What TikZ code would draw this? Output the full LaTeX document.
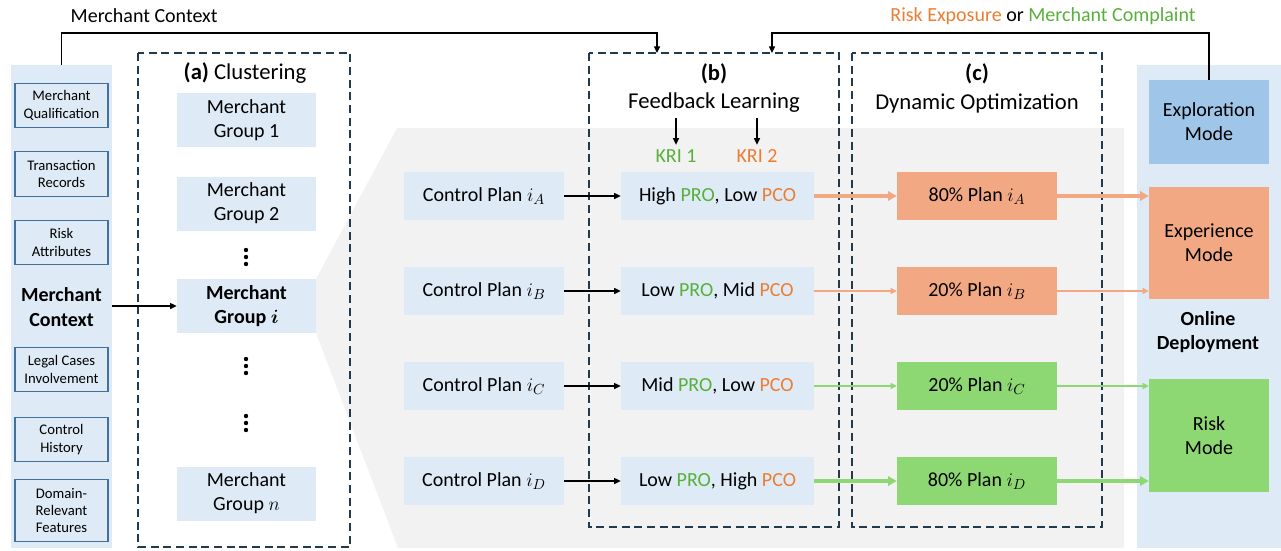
\documentclass[tikz,border=0pt]{standalone}
\usepackage{fontspec}
\setmainfont{Carlito}
\usetikzlibrary{arrows.meta}
\definecolor{lightblue}{HTML}{DEEBF7}
\definecolor{bggray}{HTML}{F2F2F2}
\definecolor{dashcol}{HTML}{1F3B4D}
\definecolor{sborder}{HTML}{41719C}
\definecolor{explblue}{HTML}{9FC5E8}
\definecolor{orfill}{HTML}{F2A882}
\definecolor{grfill}{HTML}{8ED873}
\definecolor{tgreen}{HTML}{58B03A}
\definecolor{torange}{HTML}{ED7D31}
\begin{document}
\begin{tikzpicture}[x=0.75pt,y=-0.75pt,
  big/.style={font=\fontsize{15}{18}\selectfont},
  head/.style={font=\fontsize{17}{20}\selectfont},
  box/.style={fill=lightblue, inner sep=0pt, align=center, big},
  sbox/.style={draw=sborder, line width=0.9pt, fill=lightblue, align=center,
     font=\fontsize{11}{13}\selectfont, minimum width=69.75pt, minimum height=33.5pt, inner sep=0pt},
  grp/.style={box, minimum width=104.25pt, minimum height=40.5pt},
  cplan/.style={box, minimum width=120pt, minimum height=36pt},
  fb/.style={box, minimum width=144.75pt, minimum height=36pt},
  plan/.style={inner sep=0pt, align=center, big, minimum width=120pt, minimum height=36pt},
  mode/.style={inner sep=0pt, align=center, big, minimum width=90pt},
  dbox/.style={draw=dashcol, line width=1.4pt, dash pattern=on 6pt off 3.5pt},
  arr/.style={-{Triangle[length=5pt,width=4.5pt]}, line width=1pt},
  thinarr/.style={-{Triangle[length=4.5pt,width=4.5pt]}, line width=0.9pt},
  thickarr/.style={-{Triangle[length=6.5pt,width=7pt]}, line width=2.6pt},
  dot/.style={fill=black}
]
\useasboundingbox (0,0) rectangle (1281,550);
% gray wedge background
\fill[bggray] (316,279) -- (397,128) -- (1124,128) -- (1124,548) -- (398,548) -- (316,333) -- cycle;
% side panels
\node[fill=lightblue, minimum width=75.75pt, minimum height=362.25pt, inner sep=0pt] (lp) at (61.5,306.5) {};
\node[fill=lightblue, minimum width=108pt, minimum height=362.25pt, inner sep=0pt] (rp) at (1209,306.5) {};
% dashed boxes
\draw[dbox] (138,53) rectangle (350,547);
\draw[dbox] (589,53) rectangle (839,527);
\draw[dbox] (852,53) rectangle (1102,527);
\node[head] (la) at (245,73) {\textbf{(a)} Clustering};
\node[head] (lb) at (714,74) {\textbf{(b)}};
\node[head] (lbt) at (714,103) {Feedback Learning};
\node[head] (lc) at (977,74) {\textbf{(c)}};
\node[head] (lct) at (977,103) {Dynamic Optimization};
% left small boxes
\node[sbox] (q) at (61.5,105.5) {Merchant\\Qualification};
\node[sbox] (t) at (61.5,174) {Transaction\\Records};
\node[sbox] (r) at (61.5,242.5) {Risk\\Attributes};
\node[box, fill=none, font=\fontsize{15}{18.75}\selectfont\bfseries] (mc) at (61.5,307.5) {Merchant\\Context};
\node[sbox] (l) at (61.5,369.5) {Legal Cases\\Involvement};
\node[sbox] (c) at (61.5,439.5) {Control\\History};
\node[sbox, minimum height=46.5pt] (d) at (61.5,510.5) {Domain-\\Relevant\\Features};
% groups
\node[grp] (g1) at (246.5,120) {Merchant\\Group 1};
\node[grp] (g2) at (246.5,203.5) {Merchant\\Group 2};
\node[grp, font=\fontsize{15}{18}\selectfont\bfseries] (gi) at (246.5,306) {Merchant\\Group {\boldmath$i$}};
\node[grp] (gn) at (246.5,493.5) {Merchant\\Group $n$};
\foreach \y in {250,257,264,359,366,373,416,423,430} \fill[dot] (246,\y) circle (2.2);
% control plans
\node[cplan] (ca) at (484,196) {Control Plan $i_A$};
\node[cplan] (cb) at (484,291) {Control Plan $i_B$};
\node[cplan] (cc) at (484,386) {Control Plan $i_C$};
\node[cplan] (cd) at (484,481) {Control Plan $i_D$};
% feedback
\node[fb] (fa) at (717.5,196) {High \textcolor{tgreen}{PRO}, Low \textcolor{torange}{PCO}};
\node[fb] (fbb) at (717.5,291) {Low \textcolor{tgreen}{PRO}, Mid \textcolor{torange}{PCO}};
\node[fb] (fc) at (717.5,386) {Mid \textcolor{tgreen}{PRO}, Low \textcolor{torange}{PCO}};
\node[fb] (fd) at (717.5,481) {Low \textcolor{tgreen}{PRO}, High \textcolor{torange}{PCO}};
% KRI
\node[big, text=tgreen] (k1) at (676,156) {KRI 1};
\node[big, text=torange] (k2) at (757,156) {KRI 2};
\coordinate (k1s) at (676,118);
\coordinate (k2s) at (757,118);
\draw[arr] (k1s) -- (k1.north);
\draw[arr] (k2s) -- (k2.north);
% plans
\node[plan, fill=orfill] (pa) at (977,196) {80\% Plan $i_A$};
\node[plan, fill=orfill] (pb) at (977,291) {20\% Plan $i_B$};
\node[plan, fill=grfill] (pc) at (977,386) {20\% Plan $i_C$};
\node[plan, fill=grfill] (pd) at (977,481) {80\% Plan $i_D$};
% modes
\node[mode, fill=explblue, minimum height=63pt] (ex) at (1209,122) {Exploration\\Mode};
\node[mode, fill=orfill, minimum height=84pt] (ep) at (1209,243) {Experience\\Mode};
\node[mode, fill=grfill, minimum height=84.75pt] (rm) at (1209,435.5) {Risk\\Mode};
\node[big, font=\fontsize{15}{18}\selectfont\bfseries, align=center] (od) at (1208,332) {Online\\Deployment};
% top feedback lines
\node[big, anchor=west] (tmc) at (66,16) {Merchant Context};
\node[big] (tre) at (1043,16) {\textcolor{torange}{Risk Exposure} or \textcolor{tgreen}{Merchant Complaint}};
\coordinate (bin1) at (657,53);
\coordinate (bin2) at (772,53);
\draw[arr] (lp.north) |- (657,33) -- (bin1);
\draw[arr] (ex.north) |- (772,33) -- (bin2);
% arrows
\draw[arr] (lp.east |- gi.west) -- (gi.west);
\draw[arr] (ca) -- (fa);
\draw[arr] (cb) -- (fbb);
\draw[arr] (cc) -- (fc);
\draw[arr] (cd) -- (fd);
\draw[thickarr, draw=orfill, fill=orfill] (fa) -- (pa);
\draw[thinarr, draw=orfill, fill=orfill] (fbb) -- (pb);
\draw[thinarr, draw=grfill, fill=grfill] (fc) -- (pc);
\draw[thickarr, draw=grfill, fill=grfill] (fd) -- (pd);
\draw[thickarr, draw=orfill, fill=orfill] (pa.east) -- (pa.east -| ep.west);
\draw[thinarr, draw=orfill, fill=orfill] (pb.east) -- (pb.east -| ep.west);
\draw[thinarr, draw=grfill, fill=grfill] (pc.east) -- (pc.east -| rm.west);
\draw[thickarr, draw=grfill, fill=grfill] (pd.east) -- (pd.east -| rm.west);
\end{tikzpicture}
\end{document}
